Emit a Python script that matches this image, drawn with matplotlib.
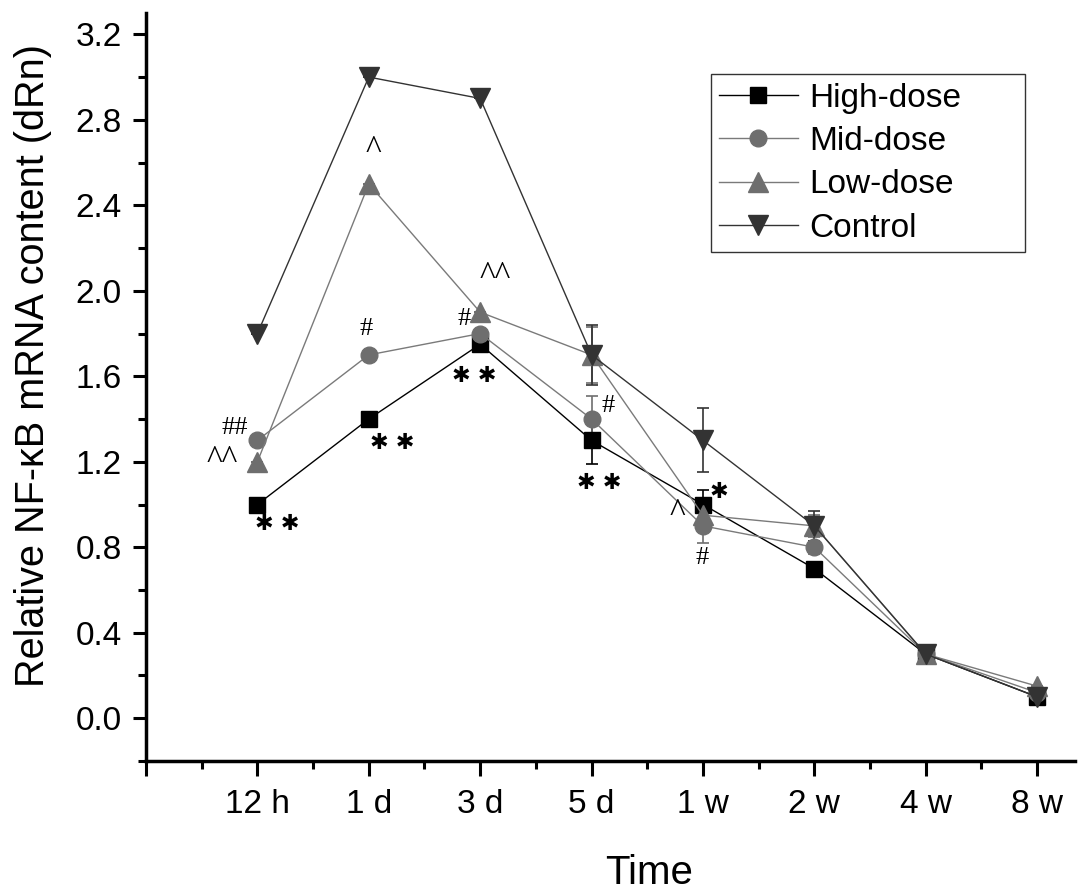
import matplotlib
matplotlib.use("Agg")
import matplotlib.pyplot as plt
from matplotlib.ticker import MultipleLocator, FixedLocator, FormatStrFormatter

plt.rcParams['font.family'] = ['Liberation Sans', 'DejaVu Sans']

time_labels = ["12 h", "1 d", "3 d", "5 d", "1 w", "2 w", "4 w", "8 w"]
x_pos = [1, 2, 3, 4, 5, 6, 7, 8]

high_dose = [1.0, 1.4, 1.75, 1.3, 1.0, 0.7, 0.3, 0.1]
mid_dose = [1.3, 1.7, 1.8, 1.4, 0.9, 0.8, 0.3, 0.12]
low_dose = [1.2, 2.5, 1.9, 1.7, 0.95, 0.9, 0.3, 0.15]
control = [1.8, 3.0, 2.9, 1.7, 1.3, 0.9, 0.3, 0.1]

high_err = [0.0, 0.0, 0.0, 0.11, 0.07, 0.03, 0.0, 0.0]
mid_err = [0.0, 0.0, 0.0, 0.11, 0.08, 0.03, 0.0, 0.0]
low_err = [0.0, 0.0, 0.0, 0.13, 0.06, 0.05, 0.0, 0.0]
control_err = [0.0, 0.0, 0.0, 0.14, 0.15, 0.07, 0.0, 0.0]

# significance marks: (x, y, text, kind)
annotations = [
    (1.18, 0.91, "✱ ✱", "star"),
    (2.21, 1.29, "✱ ✱", "star"),
    (2.95, 1.60, "✱ ✱", "star"),
    (4.07, 1.10, "✱ ✱", "star"),
    (5.14, 1.06, "✱", "star"),
    (0.80, 1.36, "##", "hash"),
    (1.98, 1.82, "#", "hash"),
    (2.86, 1.87, "#", "hash"),
    (4.15, 1.46, "#", "hash"),
    (4.99, 0.75, "#", "hash"),
    (0.68, 1.21, "^^", "caret"),
    (2.04, 2.66, "^", "caret"),
    (3.13, 2.07, "^^", "caret"),
    (4.77, 0.96, "^", "caret"),
]

fig = plt.figure(figsize=(10.87, 8.94), dpi=100)
ax = fig.add_axes([0.1343, 0.1488, 0.9890 - 0.1343, 0.9855 - 0.1488])

series = [
    ("High-dose", high_dose, high_err, "s", "#000000", "#000000", 11),
    ("Mid-dose", mid_dose, mid_err, "o", "#6e6e6e", "#7a7a7a", 12),
    ("Low-dose", low_dose, low_err, "^", "#6e6e6e", "#7a7a7a", 15),
    ("Control", control, control_err, "v", "#333333", "#333333", 15),
]

for name, vals, errs, mk, mcol, lcol, ms in series:
    ax.errorbar(x_pos, vals, yerr=errs, fmt='none', ecolor=mcol,
                elinewidth=1.2, capsize=4.5, capthick=1.2, zorder=2)
    ax.plot(x_pos, vals, color=lcol, linewidth=1.0, marker=mk,
            markersize=ms, markerfacecolor=mcol, markeredgecolor=mcol,
            label=name, zorder=3)

for x, y, txt, kind in annotations:
    if kind == "star":
        ax.text(x, y, txt, fontsize=16, family=['DejaVu Sans'],
                ha='center', va='center', color='black', zorder=4)
    elif kind == "hash":
        ax.text(x, y, txt, fontsize=19, family=['Liberation Serif'],
                ha='center', va='center', color='black', zorder=4)
    else:
        ax.text(x, y, txt, fontsize=24, family=['Liberation Serif'],
                ha='center', va='center', color='black', zorder=4)

ax.set_xlim(0, 8.34)
ax.set_ylim(-0.2, 3.3)

ax.xaxis.set_major_locator(FixedLocator([0] + x_pos))
ax.set_xticklabels([""] + time_labels)
ax.xaxis.set_minor_locator(MultipleLocator(0.5))
ax.yaxis.set_major_locator(FixedLocator([0.0, 0.4, 0.8, 1.2, 1.6, 2.0, 2.4, 2.8, 3.2]))
ax.yaxis.set_minor_locator(MultipleLocator(0.2))
ax.yaxis.set_major_formatter(FormatStrFormatter('%.1f'))

ax.tick_params(axis='x', which='major', direction='out', length=11, width=2.2,
               labelsize=24, pad=9)
ax.tick_params(axis='y', which='major', direction='out', length=9.5, width=2.2,
               labelsize=24, pad=8)
ax.tick_params(axis='both', which='minor', direction='out', length=6, width=2.2)

for side in ['top', 'right']:
    ax.spines[side].set_visible(False)
for side in ['left', 'bottom']:
    ax.spines[side].set_linewidth(2.5)

ax.set_xlabel("Time", fontsize=29)
ax.xaxis.set_label_coords(0.542, -0.125)
ax.set_ylabel("Relative NF-κB mRNA content (dRn)", fontsize=28.5)
ax.yaxis.set_label_coords(-0.101, 0.529)

leg = ax.legend(loc='upper left', bbox_to_anchor=(0.608, 0.688, 0.338, 0.23),
                mode='expand', fontsize=24,
                frameon=True, fancybox=False, edgecolor='black', handlelength=2.35,
                handletextpad=0.36, borderpad=0.25, labelspacing=0.37, borderaxespad=0)
leg.get_frame().set_linewidth(1.0)

fig.savefig("out.png", dpi=100)
